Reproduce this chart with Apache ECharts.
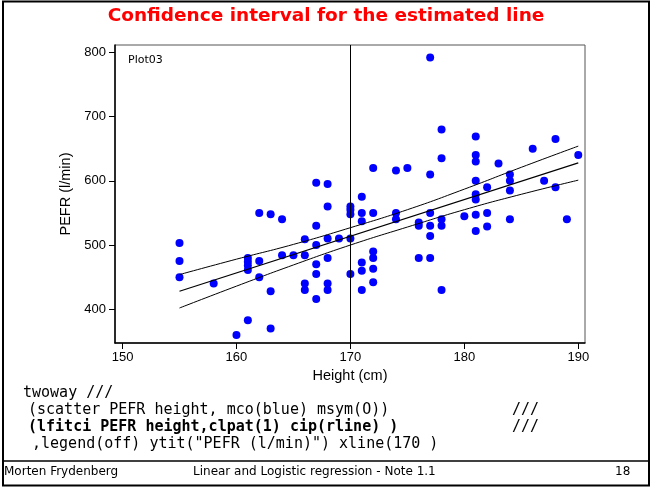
<!DOCTYPE html>
<html>
<head>
<meta charset="utf-8">
<script src="https://cdn.jsdelivr.net/npm/echarts@6/dist/echarts.min.js"></script>
<style>
  html, body { margin: 0; padding: 0; background: #fff; }
  #chart { width: 652px; height: 488px; }
</style>
</head>
<body>
<div id="chart"></div>
<script>
// data
var height = [
  177, 178, 181, 188, 186, 178, 181, 181, 183, 190, 172, 174, 175, 177, 181, 184, 184, 187, 182, 184, 188, 181, 181, 171,
  170, 170, 170, 171, 172, 171, 174, 174, 176, 176, 177, 177, 177, 178, 178, 180, 181, 182, 181, 182, 184, 189, 170,
  172, 172, 171, 172, 171, 170, 172, 171, 176, 177, 178,
  155, 155, 155, 158, 161, 161, 161, 161, 162, 162, 162, 163, 164, 164, 165, 166, 166, 167, 167, 167, 167, 167,
  168, 168, 168, 168, 168, 166, 166, 163, 161, 160, 163, 169, 167, 168
];
var pefr = [
  792, 680, 669, 665, 650, 635, 640, 630, 627, 640, 620, 616, 620, 610, 600, 610, 600, 600, 590, 585, 590, 579, 571, 575,
  560, 555, 548, 550, 550, 537, 550, 540, 535, 530, 550, 530, 514, 540, 530, 545, 547, 550, 522, 529, 540, 540, 510,
  490, 480, 473, 463, 460, 455, 442, 430, 480, 480, 430,
  503, 475, 450, 440, 480, 474, 468, 461, 475, 450, 550, 548, 540, 484, 484, 484, 509, 530, 500, 470, 455, 416,
  560, 510, 480, 440, 430, 440, 430, 428, 383, 360, 370, 510, 597, 595
];

// fitted line and 95% CI
var fitX = [155, 190];
var fitY = [428, 628];
var ciX = [155, 160, 165, 170, 175, 180, 185, 190];
var ciUpper = [454, 478, 501, 527, 555, 587, 621, 654];
var ciLower = [402, 436, 469, 500, 528, 555, 579, 601];

var xTicks = [150, 160, 170, 180, 190];
var yTicks = [400, 500, 600, 700, 800];
var xLineAt = 170;

function pairs(xs, ys) {
  return xs.map(function (x, i) { return [x, ys[i]]; });
}

var chart = echarts.init(document.getElementById('chart'));

var sans = 'Liberation Sans, Arial, sans-serif';
var mono = 'DejaVu Sans Mono, monospace';
var slideFont = 'Comic Sans MS, DejaVu Sans, sans-serif';

var option = {
  backgroundColor: '#fff',
  animation: false,
  grid: {
    left: 115, top: 45, right: 67, bottom: 145,
    show: true, borderColor: '#555', borderWidth: 1
  },
  xAxis: {
    type: 'value',
    min: 149.34, max: 190.59,
    name: 'Height (cm)',
    nameLocation: 'middle',
    nameGap: 23,
    nameTextStyle: { color: '#000', fontFamily: sans, fontSize: 14.5 },
    axisLine: { show: true, onZero: false, lineStyle: { color: '#000', width: 1.5 } },
    axisTick: { show: true, length: 6, customValues: xTicks, lineStyle: { color: '#000' } },
    axisLabel: { customValues: xTicks, color: '#000', fontFamily: sans, fontSize: 13, margin: 8 },
    splitLine: { show: false }
  },
  yAxis: {
    type: 'value',
    min: 347.5, max: 811.4,
    name: 'PEFR (l/min)',
    nameLocation: 'middle',
    nameGap: 40,
    nameRotate: 90,
    nameTextStyle: { color: '#000', fontFamily: sans, fontSize: 14.5 },
    axisLine: { show: true, onZero: false, lineStyle: { color: '#000', width: 1.5 } },
    axisTick: { show: true, length: 6, customValues: yTicks, lineStyle: { color: '#000' } },
    axisLabel: { customValues: yTicks, color: '#000', fontFamily: sans, fontSize: 13, margin: 9 },
    splitLine: { show: false }
  },
  series: [
    {
      type: 'scatter',
      data: pairs(height, pefr),
      symbol: 'circle',
      symbolSize: 8,
      itemStyle: { color: '#0000ff', opacity: 1 },
      z: 3
    },
    {
      type: 'line',
      data: pairs(ciX, ciUpper),
      smooth: true,
      showSymbol: false,
      lineStyle: { color: '#000', width: 1 },
      z: 4
    },
    {
      type: 'line',
      data: pairs(ciX, ciLower),
      smooth: true,
      showSymbol: false,
      lineStyle: { color: '#000', width: 1 },
      z: 4
    },
    {
      type: 'line',
      data: pairs(fitX, fitY),
      showSymbol: false,
      lineStyle: { color: '#000', width: 1.2 },
      z: 4,
      markLine: {
        silent: true,
        symbol: 'none',
        label: { show: false },
        lineStyle: { color: '#000', width: 1, type: 'solid' },
        data: [{ xAxis: xLineAt }]
      }
    }
  ],
  graphic: [
    // slide frame
    { type: 'rect', shape: { x: 3, y: 1.5, width: 646, height: 484 },
      style: { fill: 'none', stroke: '#000', lineWidth: 2 }, z: 10 },
    { type: 'line', shape: { x1: 3, y1: 461, x2: 649, y2: 461 },
      style: { stroke: '#000', lineWidth: 1.5 }, z: 10 },
    { type: 'text', left: 'center', top: 7,
      style: { text: 'Confidence interval for the estimated line', fill: '#ff0000',
        font: 'bold 18.5px ' + slideFont } },
    { type: 'text', left: 128, top: 55,
      style: { text: 'Plot03', fill: '#000', font: '11px ' + slideFont } },
    // code lines
    { type: 'text', left: 23, top: 386,
      style: { text: 'twoway ///', fill: '#000', font: '15px ' + mono } },
    { type: 'text', left: 28, top: 403,
      style: { text: '(scatter PEFR height, mco(blue) msym(O))', fill: '#000', font: '15px ' + mono } },
    { type: 'text', left: 512, top: 403,
      style: { text: '///', fill: '#000', font: '15px ' + mono } },
    { type: 'text', left: 28, top: 420,
      style: { text: '(lfitci PEFR height,clpat(1) cip(rline) )', fill: '#000', font: 'bold 15px ' + mono } },
    { type: 'text', left: 512, top: 420,
      style: { text: '///', fill: '#000', font: '15px ' + mono } },
    { type: 'text', left: 32, top: 437,
      style: { text: ',legend(off) ytit("PEFR (l/min)") xline(170 )', fill: '#000', font: '15px ' + mono } },
    // footer
    { type: 'text', left: 4, top: 466,
      style: { text: 'Morten Frydenberg', fill: '#000', font: '12px ' + slideFont } },
    { type: 'text', left: 193, top: 466,
      style: { text: 'Linear and Logistic regression - Note 1.1', fill: '#000', font: '12px ' + slideFont } },
    { type: 'text', left: 615, top: 466,
      style: { text: '18', fill: '#000', font: '12px ' + slideFont } }
  ]
};

chart.setOption(option);
</script>
</body>
</html>
